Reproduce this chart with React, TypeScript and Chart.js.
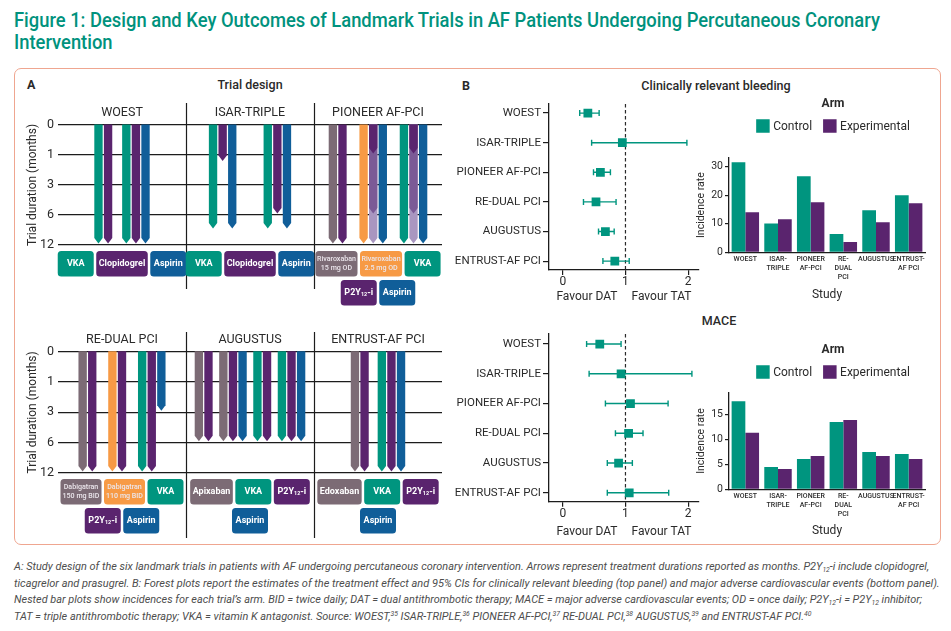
import React, { useEffect, useLayoutEffect, useRef } from "react";
import { Chart, registerables } from "chart.js";

Chart.register(...registerables);

// ---------------- DATA ----------------
const MONTH_TICKS = [0, 1, 3, 6, 12];

const TOP_TRIALS = ["WOEST", "ISAR-TRIPLE", "PIONEER AF-PCI"];
const BOTTOM_TRIALS = ["RE-DUAL PCI", "AUGUSTUS", "ENTRUST-AF PCI"];

// arms: list of [drug, months]; an array of months = variable duration (1, 6 or 12 months)
const WOEST_ARMS = [
  [["VKA", 12], ["CLO", 12]],
  [["VKA", 12], ["CLO", 12], ["ASA", 12]],
];
const ISAR_ARMS = [
  [["VKA", 9], ["CLO", 1.5], ["ASA", 9]],
  [["VKA", 9], ["CLO", 6], ["ASA", 9]],
];
const PIONEER_ARMS = [
  [["RIVA15", 12], ["P2Y", 12]],
  [["RIVA25", 12], ["P2Y", [1, 6, 12]], ["ASA", 12]],
  [["VKA", 12], ["P2Y", [1, 6, 12]], ["ASA", 12]],
];
const REDUAL_ARMS = [
  [["DABI150", 12], ["P2Y", 12]],
  [["DABI110", 12], ["P2Y", 12]],
  [["VKA", 12], ["P2Y", 12], ["ASA", 3]],
];
const AUGUSTUS_ARMS = [
  [["APIX", 6], ["P2Y", 6]],
  [["APIX", 6], ["P2Y", 6], ["ASA", 6]],
  [["VKA", 6], ["P2Y", 6]],
  [["VKA", 6], ["P2Y", 6], ["ASA", 6]],
];
const ENTRUST_ARMS = [
  [["EDOX", 12], ["P2Y", 12]],
  [["VKA", 12], ["P2Y", 12], ["ASA", 12]],
];

// drug keys shown under each trial (rows)
const WOEST_KEYS = [["VKA", "CLO", "ASA"]];
const ISAR_KEYS = [["VKA", "CLO", "ASA"]];
const PIONEER_KEYS = [["RIVA15", "RIVA25", "VKA"], ["P2Y", "ASA"]];
const REDUAL_KEYS = [["DABI150", "DABI110", "VKA"], ["P2Y", "ASA"]];
const AUGUSTUS_KEYS = [["APIX", "VKA", "P2Y"], ["ASA"]];
const ENTRUST_KEYS = [["EDOX", "VKA", "P2Y"], ["ASA"]];

const DRUG_LABEL: Record<string, string[]> = {
  VKA: ["VKA"],
  CLO: ["Clopidogrel"],
  ASA: ["Aspirin"],
  P2Y: ["P2Y12-i"],
  RIVA15: ["Rivaroxaban", "15 mg OD"],
  RIVA25: ["Rivaroxaban", "2.5 mg OD"],
  DABI150: ["Dabigatran", "150 mg BID"],
  DABI110: ["Dabigatran", "110 mg BID"],
  APIX: ["Apixaban"],
  EDOX: ["Edoxaban"],
};

const FOREST_TRIALS = ["WOEST", "ISAR-TRIPLE", "PIONEER AF-PCI", "RE-DUAL PCI", "AUGUSTUS", "ENTRUST-AF PCI"];
const FOREST_TICKS = [0, 1, 2];
const BLEED_EST = [0.4, 0.95, 0.6, 0.53, 0.68, 0.83];
const BLEED_LO = [0.27, 0.46, 0.49, 0.33, 0.57, 0.64];
const BLEED_HI = [0.58, 1.98, 0.76, 0.85, 0.82, 1.06];
const MACE_EST = [0.59, 0.93, 1.08, 1.05, 0.89, 1.06];
const MACE_LO = [0.38, 0.42, 0.68, 0.84, 0.71, 0.71];
const MACE_HI = [0.93, 2.06, 1.68, 1.28, 1.11, 1.69];

const BAR_LABELS = [["WOEST"], ["ISAR-", "TRIPLE"], ["PIONEER", "AF-PCI"], ["RE-", "DUAL", "PCI"], ["AUGUSTUS"], ["ENTRUST-", "AF PCI"]];
const ARM_NAMES = ["Control", "Experimental"];
const BLEED_CONTROL = [31.5, 10.1, 26.6, 6.4, 14.7, 20.0];
const BLEED_EXP = [14.0, 11.6, 17.5, 3.6, 10.5, 17.2];
const MACE_CONTROL = [17.6, 4.45, 6.05, 13.45, 7.45, 7.05];
const MACE_EXP = [11.3, 4.05, 6.65, 13.85, 6.65, 6.05];

// ---------------- STYLE ----------------
const FONT = "Roboto, 'Noto Sans', 'DejaVu Sans', sans-serif";
const TEXT = "#2a2a2a";
const AXIS = "#1c1c1c";
const TEAL = "#00957f";
const PURPLE = "#5a246e";
const BLUE = "#105e99";
const MAUVE = "#7c6b75";
const ORANGE = "#f79a45";
const P2Y_SHADES = ["#5a246e", "#7b5a96", "#a996c0"];
const DRUG_COLOR: Record<string, string> = {
  VKA: TEAL, CLO: PURPLE, P2Y: PURPLE, ASA: BLUE,
  RIVA15: MAUVE, DABI150: MAUVE, APIX: MAUVE, EDOX: MAUVE,
  RIVA25: ORANGE, DABI110: ORANGE,
};

// ---------------- HELPERS ----------------
function monthIndex(m: number): number {
  for (let i = 1; i < MONTH_TICKS.length; i++) {
    if (m <= MONTH_TICKS[i]) {
      const a = MONTH_TICKS[i - 1], b = MONTH_TICKS[i];
      return i - 1 + (m - a) / (b - a);
    }
  }
  return MONTH_TICKS.length - 1;
}

function layoutTrial(arms: any[], gap: number, center: number) {
  const out: any[] = [];
  let c = 0;
  arms.forEach((arm: any[], ai: number) => {
    if (ai > 0) c += gap;
    arm.forEach(([drug, months]: any) => {
      out.push({ pos: c, drug, months });
      c += 1;
    });
  });
  const span = c - 1;
  out.forEach((o) => (o.pos += center - span / 2));
  return out;
}

function roundRect(ctx: CanvasRenderingContext2D, x: number, y: number, w: number, h: number, r: number) {
  ctx.beginPath();
  ctx.moveTo(x + r, y);
  ctx.lineTo(x + w - r, y);
  ctx.quadraticCurveTo(x + w, y, x + w, y + r);
  ctx.lineTo(x + w, y + h - r);
  ctx.quadraticCurveTo(x + w, y + h, x + w - r, y + h);
  ctx.lineTo(x + r, y + h);
  ctx.quadraticCurveTo(x, y + h, x, y + h - r);
  ctx.lineTo(x, y + r);
  ctx.quadraticCurveTo(x, y, x + r, y);
  ctx.closePath();
}

const KEY_FONT = `bold 9px ${FONT}`;
const KEY_SUB_FONT = `bold 5.5px ${FONT}`;
const KEY_SMALL_FONT = `500 7.1px ${FONT}`;

function drawP2Y(ctx: CanvasRenderingContext2D, cx: number, cy: number, big: string, small: string, subDy: number, color: string, measureOnly = false) {
  ctx.font = big;
  const w1 = ctx.measureText("P2Y").width;
  const w3 = ctx.measureText("-i").width;
  ctx.font = small;
  const w2 = ctx.measureText("12").width;
  const total = w1 + w2 + w3;
  if (measureOnly) return total;
  let x = cx - total / 2;
  ctx.fillStyle = color;
  ctx.textAlign = "left";
  ctx.textBaseline = "middle";
  ctx.font = big;
  ctx.fillText("P2Y", x, cy);
  x += w1;
  ctx.font = small;
  ctx.fillText("12", x, cy + subDy);
  x += w2;
  ctx.font = big;
  ctx.fillText("-i", x, cy);
  return total;
}

function keyWidth(ctx: CanvasRenderingContext2D, drug: string) {
  const lines = DRUG_LABEL[drug];
  if (lines.length > 1) {
    ctx.font = KEY_SMALL_FONT;
    const tw = Math.max(...lines.map((l) => ctx.measureText(l).width));
    return Math.max(41, tw + 3);
  }
  let tw = 0;
  if (drug === "P2Y") {
    tw = drawP2Y(ctx, 0, 0, KEY_FONT, KEY_SUB_FONT, 2, "#fff", true);
  } else {
    ctx.font = KEY_FONT;
    tw = ctx.measureText(lines[0]).width;
  }
  return Math.max(36, tw + 5);
}

function drawKey(ctx: CanvasRenderingContext2D, drug: string, x: number, y: number, w: number, h: number) {
  roundRect(ctx, x, y, w, h, 3.5);
  ctx.fillStyle = DRUG_COLOR[drug];
  ctx.fill();
  const lines = DRUG_LABEL[drug];
  const cx = x + w / 2, cy = y + h / 2;
  ctx.textAlign = "center";
  ctx.textBaseline = "middle";
  if (lines.length > 1) {
    ctx.font = KEY_SMALL_FONT;
    ctx.fillStyle = "#ebe6ec";
    ctx.fillText(lines[0], cx, cy - 4.8);
    ctx.fillText(lines[1], cx, cy + 4.8);
  } else if (drug === "P2Y") {
    drawP2Y(ctx, cx, cy, KEY_FONT, KEY_SUB_FONT, 2, "#ffffff");
  } else {
    ctx.font = KEY_FONT;
    ctx.fillStyle = "#ffffff";
    ctx.fillText(lines[0], cx, cy);
  }
}

function drawArrow(ctx: CanvasRenderingContext2D, xc: number, yTop: number, yEnd: number, w: number, tip: number, color: string) {
  ctx.beginPath();
  ctx.moveTo(xc - w / 2, yTop);
  ctx.lineTo(xc + w / 2, yTop);
  ctx.lineTo(xc + w / 2, yEnd - tip);
  ctx.lineTo(xc, yEnd);
  ctx.lineTo(xc - w / 2, yEnd - tip);
  ctx.closePath();
  ctx.fillStyle = color;
  ctx.fill();
}

// ---------------- PANEL A ROW ----------------
const X_MAX = 40;

function DesignRow(p: any) {
  const ref = useRef<HTMLCanvasElement>(null);
  useEffect(() => {
    const PANEL = X_MAX / p.trials.length;
    const plugin = {
      id: "design",
      afterDatasetsDraw(chart: any) {
        const { ctx, scales } = chart;
        const x = scales.x, y = scales.y;
        const unit = x.getPixelForValue(1) - x.getPixelForValue(0);
        const w = unit * 0.87;
        ctx.save();
        p.trials.forEach((_: string, ti: number) => {
          const list = layoutTrial(p.arms[ti], p.gaps[ti], (ti + 0.5) * PANEL);
          list.forEach((a: any) => {
            const xc = x.getPixelForValue(a.pos);
            const top = y.getPixelForValue(0) - 0.5;
            const durs: number[] = Array.isArray(a.months) ? a.months : [a.months];
            for (let k = durs.length - 1; k >= 0; k--) {
              const color = durs.length > 1 ? P2Y_SHADES[k] : DRUG_COLOR[a.drug];
              const yEnd = y.getPixelForValue(monthIndex(durs[k])) - 1.5;
              drawArrow(ctx, xc, top, yEnd, w, 5.5, color);
            }
          });
        });
        ctx.restore();
      },
      afterDraw(chart: any) {
        const { ctx, chartArea, scales } = chart;
        const x = scales.x;
        ctx.save();
        ctx.strokeStyle = AXIS;
        ctx.lineWidth = 1.2;
        for (let k = 1; k < p.trials.length; k++) {
          const xs = Math.round(x.getPixelForValue(k * PANEL)) + 0.5;
          ctx.beginPath();
          ctx.moveTo(xs, p.sepTop);
          ctx.lineTo(xs, p.sepBottom);
          ctx.stroke();
        }
        ctx.font = `12.5px ${FONT}`;
        ctx.fillStyle = TEXT;
        ctx.textAlign = "center";
        ctx.textBaseline = "middle";
        p.trials.forEach((t: string, ti: number) => {
          ctx.fillText(t, x.getPixelForValue((ti + 0.5) * PANEL), chartArea.top - 12);
        });
        p.trials.forEach((_: string, ti: number) => {
          const cx = x.getPixelForValue((ti + 0.5) * PANEL);
          p.keys[ti].forEach((row: string[], ri: number) => {
            const widths = row.map((d) => keyWidth(ctx, d));
            const total = widths.reduce((s, v) => s + v, 0) + (row.length - 1) * 2.5;
            let kx = cx - total / 2;
            const ky = chartArea.bottom + 6 + ri * 29;
            row.forEach((d, di) => {
              drawKey(ctx, d, kx, ky, widths[di], 25.5);
              kx += widths[di] + 2.5;
            });
          });
        });
        ctx.restore();
      },
    };
    const chart = new Chart(ref.current as HTMLCanvasElement, {
      type: "scatter",
      data: { datasets: [{ data: [] }] },
      options: {
        animation: false,
        responsive: true,
        maintainAspectRatio: false,
        events: [],
        layout: { padding: { top: p.chartTop, bottom: p.height - p.chartBottom, left: 0, right: p.width - p.chartRight } },
        plugins: { legend: { display: false }, tooltip: { enabled: false } },
        scales: {
          x: { type: "linear", display: false, min: 0, max: X_MAX },
          y: {
            type: "linear",
            min: 0,
            max: MONTH_TICKS.length - 1,
            reverse: true,
            afterBuildTicks: (s: any) => {
              s.ticks = MONTH_TICKS.map((_, i) => ({ value: i }));
            },
            afterFit: (s: any) => {
              s.width = p.chartLeft;
            },
            ticks: {
              callback: (v: any) => String(MONTH_TICKS[Math.round(v)]),
              font: { family: FONT, size: 12.5 },
              color: TEXT,
              padding: 4,
            },
            grid: { color: AXIS, lineWidth: 1.2, drawTicks: false },
            border: { display: false },
            title: {
              display: true,
              text: "Trial duration (months)",
              font: { family: FONT, size: 12 },
              color: TEXT,
              padding: { top: 12, bottom: 0 },
            },
          },
        },
      } as any,
      plugins: [plugin],
    });
    return () => chart.destroy();
  }, []);
  return (
    <div style={{ position: "absolute", left: p.left, top: p.top, width: p.width, height: p.height }}>
      <canvas ref={ref} />
    </div>
  );
}

// ---------------- FOREST ----------------
function Forest(p: any) {
  const ref = useRef<HTMLCanvasElement>(null);
  useEffect(() => {
    const plugin = {
      id: "forest",
      beforeDatasetsDraw(chart: any) {
        const { ctx, chartArea, scales } = chart;
        const x = scales.x, y = scales.y;
        ctx.save();
        const x1 = x.getPixelForValue(1);
        ctx.strokeStyle = "#2a2a2a";
        ctx.lineWidth = 1.2;
        ctx.setLineDash([3.5, 2.5]);
        ctx.beginPath();
        ctx.moveTo(x1, chartArea.top);
        ctx.lineTo(x1, chartArea.bottom);
        ctx.stroke();
        ctx.setLineDash([]);
        ctx.strokeStyle = TEAL;
        ctx.lineWidth = 1.4;
        p.lo.forEach((lo: number, i: number) => {
          const yy = y.getPixelForValue(i);
          const a = x.getPixelForValue(lo), b = x.getPixelForValue(p.hi[i]);
          ctx.beginPath();
          ctx.moveTo(a, yy);
          ctx.lineTo(b, yy);
          ctx.moveTo(a, yy - 3);
          ctx.lineTo(a, yy + 3);
          ctx.moveTo(b, yy - 3);
          ctx.lineTo(b, yy + 3);
          ctx.stroke();
        });
        ctx.restore();
      },
      afterDraw(chart: any) {
        const { ctx, chartArea, scales } = chart;
        const x1 = scales.x.getPixelForValue(1);
        ctx.save();
        ctx.font = `12px ${FONT}`;
        ctx.fillStyle = TEXT;
        ctx.textBaseline = "middle";
        ctx.textAlign = "right";
        ctx.fillText("Favour DAT", x1 - 8, chartArea.bottom + p.favourOffset);
        ctx.textAlign = "left";
        ctx.fillText("Favour TAT", x1 + 6, chartArea.bottom + p.favourOffset);
        ctx.restore();
      },
    };
    const chart = new Chart(ref.current as HTMLCanvasElement, {
      type: "scatter",
      data: {
        datasets: [
          {
            data: p.est.map((e: number, i: number) => ({ x: e, y: i })),
            pointStyle: "rect",
            pointRadius: 6.2,
            backgroundColor: TEAL,
            borderWidth: 0,
          },
        ],
      },
      options: {
        animation: false,
        responsive: true,
        maintainAspectRatio: false,
        events: [],
        layout: { padding: { top: p.chartTop, bottom: 0, left: 0, right: p.width - p.chartRight } },
        plugins: { legend: { display: false }, tooltip: { enabled: false } },
        scales: {
          x: {
            type: "linear",
            min: -0.22,
            max: 2.17,
            afterBuildTicks: (s: any) => {
              s.ticks = FOREST_TICKS.map((v) => ({ value: v }));
            },
            afterFit: (s: any) => {
              s.height = p.height - p.chartBottom;
            },
            ticks: { font: { family: FONT, size: 12 }, color: TEXT, padding: 0 },
            grid: { drawOnChartArea: false, drawTicks: true, tickLength: 5, color: AXIS, lineWidth: 1.2 },
            border: { color: AXIS, width: 1.3 },
          },
          y: {
            type: "linear",
            min: p.yMin,
            max: 5.3,
            reverse: true,
            afterBuildTicks: (s: any) => {
              s.ticks = FOREST_TRIALS.map((_, i) => ({ value: i }));
            },
            afterFit: (s: any) => {
              s.width = p.chartLeft;
            },
            ticks: {
              callback: (v: any) => FOREST_TRIALS[Math.round(v)],
              font: { family: FONT, size: 11.5 },
              color: TEXT,
              padding: 2,
            },
            grid: { drawOnChartArea: false, drawTicks: true, tickLength: 6, color: AXIS, lineWidth: 1.2 },
            border: { color: AXIS, width: 1.3 },
          },
        },
      } as any,
      plugins: [plugin],
    });
    return () => chart.destroy();
  }, []);
  return (
    <div style={{ position: "absolute", left: p.left, top: p.top, width: p.width, height: p.height }}>
      <canvas ref={ref} />
    </div>
  );
}

// ---------------- BARS ----------------
function Bars(p: any) {
  const ref = useRef<HTMLCanvasElement>(null);
  useEffect(() => {
    const legendPlugin = {
      id: "armLegend",
      afterDraw(chart: any) {
        const { ctx } = chart;
        const ds = chart.data.datasets;
        ctx.save();
        ctx.textBaseline = "middle";
        ctx.textAlign = "center";
        ctx.font = `bold 12px ${FONT}`;
        ctx.fillStyle = TEXT;
        ctx.fillText("Arm", p.legendX, p.legendTitleY);
        ctx.font = `12px ${FONT}`;
        const box = 13.5, gapTxt = 3.5, gapItem = 11;
        const widths = ds.map((d: any) => ctx.measureText(d.label).width);
        const total = ds.reduce((s: number, _: any, i: number) => s + box + gapTxt + widths[i], 0) + gapItem * (ds.length - 1);
        let x = p.legendX - total / 2;
        ds.forEach((d: any, i: number) => {
          ctx.fillStyle = d.backgroundColor;
          ctx.fillRect(x, p.legendItemY - box / 2, box, box);
          x += box + gapTxt;
          ctx.fillStyle = TEXT;
          ctx.textAlign = "left";
          ctx.fillText(d.label, x, p.legendItemY + 0.5);
          x += widths[i] + gapItem;
        });
        ctx.restore();
      },
    };
    const chart = new Chart(ref.current as HTMLCanvasElement, {
      type: "bar",
      data: {
        labels: BAR_LABELS,
        datasets: [
          { label: ARM_NAMES[0], data: p.control, backgroundColor: TEAL },
          { label: ARM_NAMES[1], data: p.exp, backgroundColor: PURPLE },
        ],
      },
      options: {
        animation: false,
        responsive: true,
        maintainAspectRatio: false,
        events: [],
        datasets: { bar: { categoryPercentage: 0.84, barPercentage: 1.0 } },
        layout: { padding: { top: p.chartTop, bottom: 0, left: 0, right: p.width - p.chartRight } },
        plugins: { legend: { display: false }, tooltip: { enabled: false } },
        scales: {
          x: {
            afterFit: (s: any) => {
              s.height = p.height - p.chartBottom;
            },
            ticks: {
              font: { family: FONT, size: 7, weight: "500", lineHeight: 1.3 },
              color: TEXT,
              maxRotation: 0,
              minRotation: 0,
              autoSkip: false,
              padding: 2.5,
            },
            grid: { display: false, drawTicks: false },
            border: { color: AXIS, width: 1.3 },
            title: {
              display: true,
              text: "Study",
              font: { family: FONT, size: 12 },
              color: TEXT,
              padding: { top: 0, bottom: 3 },
            },
          },
          y: {
            min: 0,
            max: p.yMax,
            afterBuildTicks: (s: any) => {
              const t = [];
              for (let v = 0; v <= p.yMax; v += p.step) t.push({ value: v });
              s.ticks = t;
            },
            afterFit: (s: any) => {
              s.width = p.chartLeft;
            },
            ticks: { font: { family: FONT, size: 10.5 }, color: TEXT, padding: 2 },
            grid: { drawOnChartArea: false, drawTicks: true, tickLength: 4, color: AXIS, lineWidth: 1.2 },
            border: { color: AXIS, width: 1.3 },
            title: {
              display: true,
              text: "Incidence rate",
              font: { family: FONT, size: 10.5 },
              color: TEXT,
              padding: { top: 5.5, bottom: 0 },
            },
          },
        },
      } as any,
      plugins: [legendPlugin],
    });
    return () => chart.destroy();
  }, []);
  return (
    <div style={{ position: "absolute", left: p.left, top: p.top, width: p.width, height: p.height }}>
      <canvas ref={ref} />
    </div>
  );
}

// ---------------- TEXT ----------------
function FitLines(p: any) {
  const refs = useRef<(HTMLSpanElement | null)[]>([]);
  useLayoutEffect(() => {
    const scales: number[] = [];
    p.lines.forEach((l: any, i: number) => {
      const el = refs.current[i];
      if (el && l.width) {
        const w = el.offsetWidth;
        if (w > 0) scales[i] = l.width / w;
      }
    });
    const known = scales.filter((s) => s);
    const avg = known.length ? known.reduce((a, b) => a + b, 0) / known.length : 1;
    p.lines.forEach((_: any, i: number) => {
      const el = refs.current[i];
      if (el) el.style.transform = `scaleX(${scales[i] || avg})`;
    });
  }, []);
  return (
    <>
      {p.lines.map((l: any, i: number) => (
        <div
          key={i}
          style={{
            position: "absolute",
            left: p.left,
            top: p.top + i * p.lineHeight,
            whiteSpace: "nowrap",
            lineHeight: `${p.lineHeight}px`,
            ...p.style,
          }}
        >
          <span ref={(el) => (refs.current[i] = el)} style={{ display: "inline-block", transformOrigin: "0 0" }}>
            {l.content}
          </span>
        </div>
      ))}
    </>
  );
}

const subStyle: React.CSSProperties = { fontSize: "0.62em", position: "relative", top: "0.3em", lineHeight: 0 };
const supStyle: React.CSSProperties = { fontSize: "0.62em", position: "relative", top: "-0.45em", lineHeight: 0 };
const Sub = ({ t }: any) => <span style={subStyle}>{t}</span>;
const Sup = ({ t }: any) => <span style={supStyle}>{t}</span>;

const CAPTION = [
  {
    width: 915,
    content: (
      <>
        A: Study design of the six landmark trials in patients with AF undergoing percutaneous coronary intervention. Arrows represent
        treatment durations reported as months. P2Y<Sub t="12" />-i include clopidogrel,
      </>
    ),
  },
  {
    width: 926,
    content: (
      <>
        ticagrelor and prasugrel. B: Forest plots report the estimates of the treatment effect and 95% CIs for clinically relevant bleeding
        (top panel) and major adverse cardiovascular events (bottom panel).
      </>
    ),
  },
  {
    width: 908,
    content: (
      <>
        Nested bar plots show incidences for each trial’s arm. BID = twice daily; DAT = dual antithrombotic therapy; MACE = major adverse
        cardiovascular events; OD = once daily; P2Y<Sub t="12" />-i = P2Y<Sub t="12" /> inhibitor;
      </>
    ),
  },
  {
    content: (
      <>
        TAT = triple antithrombotic therapy; VKA = vitamin K antagonist. Source: WOEST,<Sup t="35" /> ISAR-TRIPLE,<Sup t="36" /> PIONEER
        AF-PCI,<Sup t="37" /> RE-DUAL PCI,<Sup t="38" /> AUGUSTUS,<Sup t="39" /> and ENTRUST-AF PCI.<Sup t="40" />
      </>
    ),
  },
];

const TITLE = [
  { width: 866, content: "Figure 1: Design and Key Outcomes of Landmark Trials in AF Patients Undergoing Percutaneous Coronary" },
  { content: "Intervention" },
];

function Label({ x, y, text, bold, size, center, w }: any) {
  return (
    <div
      style={{
        position: "absolute",
        left: center ? x - (w || 200) / 2 : x,
        top: y - 9,
        width: center ? w || 200 : undefined,
        textAlign: center ? "center" : "left",
        lineHeight: "18px",
        fontFamily: FONT,
        fontSize: size,
        fontWeight: bold,
        color: TEXT,
        whiteSpace: "nowrap",
      }}
    >
      {text}
    </div>
  );
}

export default function App() {
  return (
    <div style={{ position: "absolute", left: 0, top: 0, width: 951, height: 631, background: "#fff", overflow: "hidden", fontFamily: FONT }}>
      <FitLines lines={TITLE} left={14} top={10} lineHeight={22} style={{ fontFamily: FONT, fontSize: 19.5, fontWeight: 500, color: "#00927d" }} />
      <div
        style={{
          position: "absolute",
          left: 14,
          top: 68,
          width: 927,
          height: 477,
          boxSizing: "border-box",
          border: "1.6px solid #efa690",
          borderRadius: 7,
        }}
      />
      <Label x={27} y={85} text="A" bold={700} size={12.5} />
      <Label x={250} y={85} text="Trial design" bold={500} size={12.5} center />
      <Label x={462} y={86} text="B" bold={700} size={12.5} />
      <Label x={716} y={86} text="Clinically relevant bleeding" bold={500} size={12.5} center />
      <Label x={719} y={321} text="MACE" bold={500} size={12.5} center />

      <DesignRow
        trials={TOP_TRIALS}
        arms={[WOEST_ARMS, ISAR_ARMS, PIONEER_ARMS]}
        keys={[WOEST_KEYS, ISAR_KEYS, PIONEER_KEYS]}
        gaps={[0.9, 2.7, 1.2]}
        left={14}
        top={95}
        width={436}
        height={215}
        chartLeft={44}
        chartRight={428}
        chartTop={30}
        chartBottom={150}
        sepTop={8}
        sepBottom={194}
      />
      <DesignRow
        trials={BOTTOM_TRIALS}
        arms={[REDUAL_ARMS, AUGUSTUS_ARMS, ENTRUST_ARMS]}
        keys={[REDUAL_KEYS, AUGUSTUS_KEYS, ENTRUST_KEYS]}
        gaps={[1.1, 0.55, 0.8]}
        left={14}
        top={325}
        width={436}
        height={220}
        chartLeft={44}
        chartRight={428}
        chartTop={26.7}
        chartBottom={148}
        sepTop={7}
        sepBottom={213}
      />

      <Forest
        est={BLEED_EST}
        lo={BLEED_LO}
        hi={BLEED_HI}
        left={450}
        top={95}
        width={255}
        height={215}
        chartLeft={99}
        chartRight={249}
        chartTop={6.7}
        chartBottom={175}
        yMin={-0.31}
        favourOffset={27}
      />
      <Forest
        est={MACE_EST}
        lo={MACE_LO}
        hi={MACE_HI}
        left={450}
        top={325}
        width={255}
        height={215}
        chartLeft={99}
        chartRight={249}
        chartTop={7}
        chartBottom={176.7}
        yMin={-0.34}
        favourOffset={30}
      />

      <Bars
        control={BLEED_CONTROL}
        exp={BLEED_EXP}
        yMax={33}
        step={10}
        left={690}
        top={95}
        width={250}
        height={210}
        chartLeft={39}
        chartRight={235}
        chartTop={63}
        chartBottom={157.3}
        legendX={143}
        legendTitleY={9}
        legendItemY={31}
      />
      <Bars
        control={MACE_CONTROL}
        exp={MACE_EXP}
        yMax={19.3}
        step={5}
        left={690}
        top={341}
        width={250}
        height={200}
        chartLeft={39}
        chartRight={235}
        chartTop={51.7}
        chartBottom={148.3}
        legendX={143}
        legendTitleY={9}
        legendItemY={31}
      />

      <FitLines
        lines={CAPTION}
        left={14}
        top={558}
        lineHeight={16.5}
        style={{ fontFamily: FONT, fontSize: 11.5, fontStyle: "italic", color: "#4d4d4d" }}
      />
    </div>
  );
}
